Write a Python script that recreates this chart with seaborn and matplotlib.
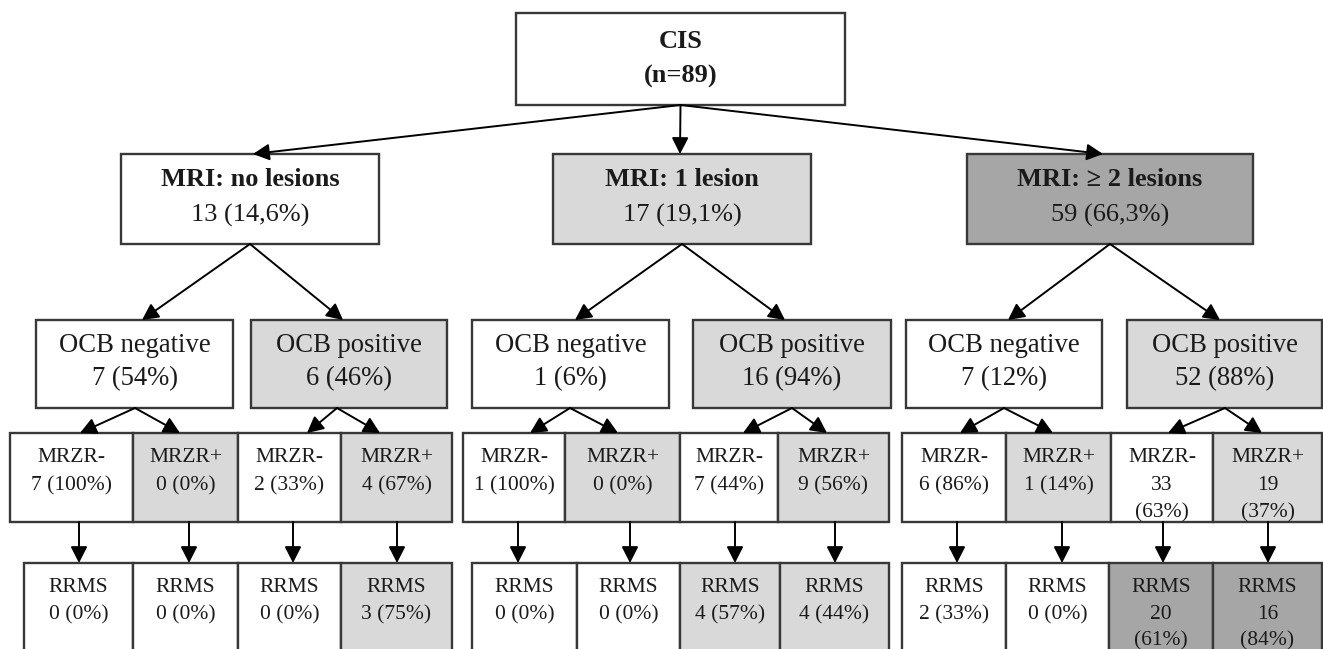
import matplotlib
matplotlib.use("Agg")
import matplotlib.pyplot as plt
from matplotlib.patches import Rectangle
import seaborn as sns

# ---------------- data ----------------
cis_label = "CIS"
cis_n = 89

mri_labels = ["MRI: no lesions", "MRI: 1 lesion", "MRI: \u2265 2 lesions"]
mri_counts = [13, 17, 59]
mri_pcts = ["14,6%", "19,1%", "66,3%"]

ocb_labels = ["OCB negative", "OCB positive"] * 3
ocb_counts = [7, 6, 1, 16, 7, 52]
ocb_pcts = [54, 46, 6, 94, 12, 88]

mrzr_labels = ["MRZR-", "MRZR+"] * 6
mrzr_counts = [7, 0, 2, 4, 1, 0, 7, 9, 6, 1, 33, 19]
mrzr_pcts = [100, 0, 33, 67, 100, 0, 44, 56, 86, 14, 63, 37]

rrms_label = "RRMS"
rrms_counts = [0, 0, 0, 3, 0, 0, 4, 4, 2, 0, 20, 16]
rrms_pcts = [0, 0, 0, 75, 0, 0, 57, 44, 33, 0, 61, 84]

# ---------------- styles / layout ----------------
WHITE, LIGHT, DARK = "#ffffff", "#d9d9d9", "#a6a6a6"
mri_fill = [WHITE, LIGHT, DARK]
ocb_fill = [WHITE, LIGHT] * 3
mrzr_fill = [WHITE, LIGHT] * 6
rrms_fill = [WHITE, WHITE, WHITE, LIGHT,
             WHITE, WHITE, LIGHT, LIGHT,
             WHITE, WHITE, DARK, DARK]

cis_box = (516, 845, 13, 105)
mri_x = [(121, 379), (553, 811), (967, 1253)]
mri_y = (154, 244)
ocb_x = [(36, 233), (251, 447), (472, 669), (693, 891), (906, 1102), (1127, 1322)]
ocb_y = (320, 408)
mrzr_edges = [[10, 133, 238, 341, 452], [463, 565, 680, 778, 889], [902, 1006, 1111, 1213, 1322]]
mrzr_y = (433, 522)
rrms_edges = [[24, 133, 238, 341, 452], [472, 577, 680, 780, 889], [902, 1006, 1109, 1213, 1322]]
rrms_y = (563, 700)

ocb_arrow_tips = [142, 343, 575, 785, 1008, 1220]
mrzr_arrow_src = [135, 337, 570, 792, 1004, 1225]
mrzr_arrow_tips = [80, 180, 307, 380, 530, 618, 743, 827, 960, 1053, 1168, 1262]
rrms_arrow_x = [79, 189, 293, 397, 518, 630, 735, 835, 957, 1062, 1163, 1268]
mri_arrow_tips = [253, 680, 1103]

sns.set_theme(style="white")
plt.rcParams["font.family"] = ["Liberation Serif", "DejaVu Serif"]
TXT = "#1a1a1a"
EDGE = "#383838"

fig = plt.figure(figsize=(13.23, 6.49), dpi=100)
ax = fig.add_axes([0, 0, 1, 1])
ax.set_xlim(0, 1323)
ax.set_ylim(649, 0)
ax.axis("off")


def box(x0, x1, y0, y1, fc):
    ax.add_patch(Rectangle((x0, y0), x1 - x0, y1 - y0, facecolor=fc,
                           edgecolor=EDGE, lw=1.7, zorder=2))


def lines(xc, y0, dy, texts, size, bold_first=False):
    for i, t in enumerate(texts):
        ax.text(xc, y0 + i * dy, t, ha="center", va="center", fontsize=size,
                color=TXT, fontweight="bold" if (bold_first and i == 0) else "normal",
                zorder=3)


def arrow(x0, y0, x1, y1):
    ax.annotate("", xy=(x1, y1), xytext=(x0, y0),
                arrowprops=dict(arrowstyle="-|>,head_length=0.55,head_width=0.28",
                                mutation_scale=18, color="black", lw=1.4,
                                shrinkA=0, shrinkB=0), zorder=4)


def split(count, pct):
    if count >= 10:
        return [str(count), f"({pct}%)"]
    return [f"{count} ({pct}%)"]


# CIS
x0, x1, y0, y1 = cis_box
box(x0, x1, y0, y1, WHITE)
cx = (x0 + x1) / 2
ax.text(cx, 42, cis_label, ha="center", va="center", fontsize=19, fontweight="bold", color=TXT)
ax.text(cx, 76, f"(n={cis_n})", ha="center", va="center", fontsize=19, fontweight="bold", color=TXT)
for tip in mri_arrow_tips:
    arrow(cx, y1, tip, mri_y[0])

# MRI level
for i, (xa, xb) in enumerate(mri_x):
    box(xa, xb, mri_y[0], mri_y[1], mri_fill[i])
    mc = (xa + xb) / 2
    lines(mc, 180, 35, [mri_labels[i], f"{mri_counts[i]} ({mri_pcts[i]})"], 19, bold_first=True)
    for k in range(2):
        arrow(mc, mri_y[1], ocb_arrow_tips[2 * i + k], ocb_y[0])

# OCB level
for j, (xa, xb) in enumerate(ocb_x):
    box(xa, xb, ocb_y[0], ocb_y[1], ocb_fill[j])
    oc = (xa + xb) / 2
    lines(oc, 345, 34, [ocb_labels[j], f"{ocb_counts[j]} ({ocb_pcts[j]}%)"], 19.2)
    for k in range(2):
        arrow(mrzr_arrow_src[j], ocb_y[1], mrzr_arrow_tips[2 * j + k], mrzr_y[0])

# MRZR level
for g in range(3):
    e = mrzr_edges[g]
    for k in range(4):
        idx = 4 * g + k
        box(e[k], e[k + 1], mrzr_y[0], mrzr_y[1], mrzr_fill[idx])
        c = (e[k] + e[k + 1]) / 2
        lines(c, 458, 27.5, [mrzr_labels[idx]] + split(mrzr_counts[idx], mrzr_pcts[idx]), 15.5)
        arrow(rrms_arrow_x[idx], mrzr_y[1], rrms_arrow_x[idx], rrms_y[0])

# RRMS level
for g in range(3):
    e = rrms_edges[g]
    for k in range(4):
        idx = 4 * g + k
        box(e[k], e[k + 1], rrms_y[0], rrms_y[1], rrms_fill[idx])
        c = (e[k] + e[k + 1]) / 2
        lines(c, 588, 26.5, [rrms_label] + split(rrms_counts[idx], rrms_pcts[idx]), 15.5)

fig.savefig("out.png", dpi=100, facecolor="white")
